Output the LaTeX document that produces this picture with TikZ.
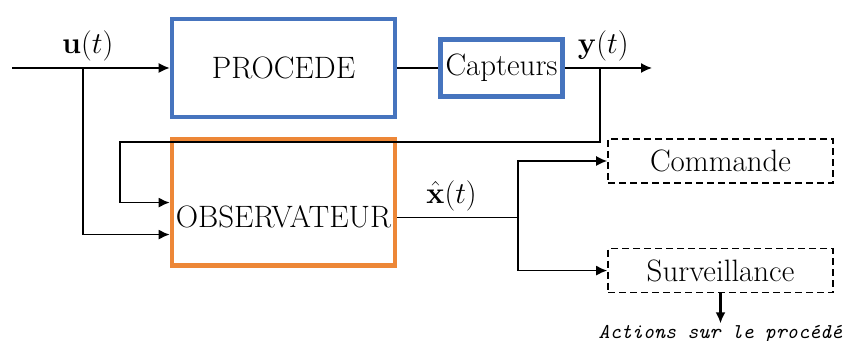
\documentclass[tikz,border=0pt]{standalone}
\usepackage{tikz}
\usetikzlibrary{arrows.meta,positioning}

\definecolor{procblue}{RGB}{70,116,190}
\definecolor{obsorange}{RGB}{237,135,55}

\begin{document}
\begin{tikzpicture}[
  font=\fontsize{17.6}{21}\selectfont,
  block/.style={draw=procblue,line width=2.6pt,minimum width=4.46cm,minimum height=1.96cm,inner sep=1pt},
  obsbox/.style={draw=obsorange,line width=2.6pt,minimum width=4.46cm,minimum height=2.52cm,inner sep=1pt,text height=1.0cm,text depth=0pt},
  sortie/.style={draw,line width=0.9pt,dash pattern=on 0.14cm off 0.08cm,minimum width=4.5cm,minimum height=0.88cm,inner sep=1pt},
  sig/.style={font=\fontsize{16}{19}\selectfont},
  line/.style={line width=0.9pt},
  arrow/.style={-{Latex[length=2.2mm,width=2mm]},line width=0.9pt},
]
\useasboundingbox (0,0) rectangle (16.88,-6.82);

\node[block] (proc) at (5.67,-1.36) {PROCEDE};
\node[block,minimum width=2.44cm,minimum height=1.14cm,right=0.82cm of proc] (capt) {Capteurs};
\node[obsbox,below=0.36cm of proc] (obs) {OBSERVATEUR};

\node[sortie] (cmd) at (14.41,-3.22) {Commande};
\node[sortie,below=1.28cm of cmd] (surv) {Surveillance};
\node[font=\fontsize{12}{14}\selectfont\ttfamily\itshape,inner sep=1pt,below=0.6cm of surv] (act) {Actions sur le procédé};

% points de branchement
\coordinate (in) at (0.24,-1.36);
\coordinate (uj) at (1.66,-1.36);
\coordinate (yj) at (12.0,-1.36);
\coordinate (out) at (13.04,-1.36);
\coordinate (fb) at (2.4,-2.84);
\coordinate (xs) at ([yshift=-0.3cm]obs.east);
\coordinate (xcol) at (10.36,0);
\coordinate (xj) at (xs -| xcol);

\draw[arrow] (in) -- node[sig,above,pos=0.48] {$\mathbf{u}(t)$} (proc);
\draw[line] (proc) -- (capt);
\draw[arrow] (capt) -- node[sig,above,pos=0.44] {$\mathbf{y}(t)$} (out);
\draw[arrow] (yj) |- (fb) |- (obs.west);
\draw[arrow] (uj) |- ([yshift=-0.64cm]obs.west);
\draw[line] (xs) -- node[sig,above,pos=0.45] {$\hat{\mathbf{x}}(t)$} (xj);
\draw[arrow] (xj) |- (cmd.west);
\draw[arrow] (xj) |- (surv.west);
\draw[arrow,line width=1.2pt] (surv) -- (act);

\end{tikzpicture}
\end{document}
